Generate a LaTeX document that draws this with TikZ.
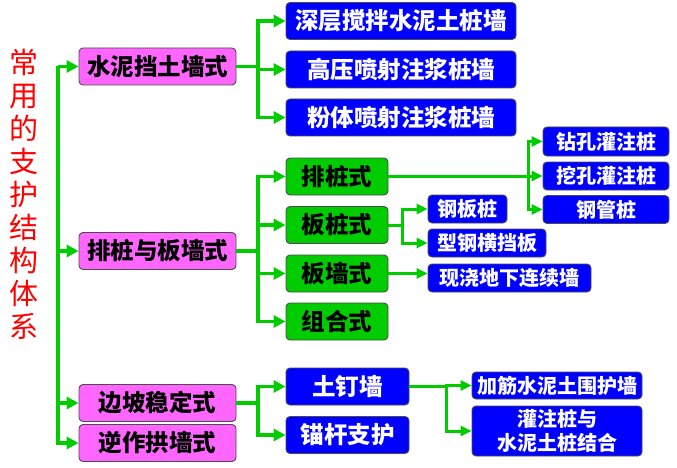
\documentclass[tikz,border=0pt]{standalone}
\usepackage{fontspec}
\setmainfont{Noto Sans CJK SC}
\usepackage{xcolor}
\usepackage{tikz}
\usetikzlibrary{arrows.meta, calc}

\definecolor{boxpink}{RGB}{255,102,255}
\definecolor{boxgreen}{RGB}{0,204,0}
\definecolor{boxblue}{RGB}{0,0,255}
\definecolor{linegreen}{RGB}{0,204,0}

\begin{document}
\begin{tikzpicture}[x=1pt, y=-1pt,
    box/.style={draw=black!70, line width=0.9pt, rounded corners=4pt, inner sep=0pt, align=center},
    pinkbox/.style={box, fill=boxpink, minimum width=157, minimum height=37, font=\fontsize{23.5}{27}\selectfont\bfseries},
    greenbox/.style={box, fill=boxgreen, minimum width=102, minimum height=37, font=\fontsize{23.5}{27}\selectfont\bfseries},
    bluebox/.style={box, fill=boxblue, text=white, minimum height=37, font=\fontsize{23.5}{27}\selectfont\bfseries},
    smallbox/.style={box, fill=boxblue, text=white, minimum height=28, font=\fontsize{20}{24}\selectfont\bfseries},
    conn/.style={linegreen, line width=3.6pt},
    arr/.style={conn, -{Triangle[length=12pt, width=12pt]}},
    thinarr/.style={linegreen, line width=3pt, -{Triangle[length=11pt, width=10pt]}}]
    \useasboundingbox (0,0) rectangle (677,468);

    % title
    \node[red, align=center, font=\fontsize{29}{33}\selectfont] (title) at (24,194)
        {常\\用\\的\\支\\护\\结\\构\\体\\系};

    % first level
    \node[pinkbox] (wall) at (157.5,66.5) {水泥挡土墙式};
    \node[pinkbox] (pile) at (157.5,251) {排桩与板墙式};
    \node[pinkbox] (slope) at (157.5,403) {边坡稳定式};
    \node[pinkbox] (arch) at (157.5,443) {逆作拱墙式};

    % cement walls
    \node[bluebox, minimum width=230] (deep) at (401,21) {深层搅拌水泥土桩墙};
    \node[bluebox, minimum width=230] (jet) at (401,69.5) {高压喷射注浆桩墙};
    \node[bluebox, minimum width=230] (powder) at (401,117.5) {粉体喷射注浆桩墙};

    % piles and walls
    \node[greenbox] (row) at (337,176.5) {排桩式};
    \node[greenbox] (sheet) at (337,225) {板桩式};
    \node[greenbox] (panel) at (337,273.5) {板墙式};
    \node[greenbox] (combo) at (337,321.5) {组合式};

    \node[smallbox, minimum width=126, minimum height=29] (bored) at (606,141.5) {钻孔灌注桩};
    \node[smallbox, minimum width=126] (dug) at (606,176) {挖孔灌注桩};
    \node[smallbox, minimum width=126] (steel) at (606,209.5) {钢管桩};
    \node[smallbox, minimum width=79] (sheetpile) at (467.5,209) {钢板桩};
    \node[smallbox, minimum width=118] (hsteel) at (487,243) {型钢横挡板};
    \node[smallbox, minimum width=163] (dwall) at (509.5,278) {现浇地下连续墙};

    % slope
    \node[bluebox, minimum width=123] (nail) at (347.5,386.5) {土钉墙};
    \node[bluebox, minimum width=123] (anchor) at (347.5,435) {锚杆支护};
    \node[smallbox, minimum width=170, minimum height=27] (rein) at (557,385.5) {加筋水泥土围护墙};
    \node[smallbox, minimum width=170, minimum height=50] (mixed) at (557,431) {灌注桩与\\水泥土桩结合};

    % trunk
    \coordinate (trunk) at (58,66.5);
    \draw[arr] (trunk) -- (wall.west);
    \foreach \n in {pile,slope,arch} {
        \draw[arr] (trunk) |- (\n.west);
    }

    % forks
    \coordinate (wallfork) at (258,66.5);
    \draw[conn] (wall.east) -- (wallfork);
    \foreach \n in {deep,jet,powder} {
        \draw[arr] (wallfork) |- (\n.west);
    }

    \coordinate (pilefork) at (258,251);
    \draw[conn] (pile.east) -- (pilefork);
    \foreach \n in {row,sheet,panel,combo} {
        \draw[arr] (pilefork) |- (\n.west);
    }

    \coordinate (rowfork) at (528,176.5);
    \draw[linegreen, line width=3pt] (row.east) -- (rowfork);
    \foreach \n in {bored,dug,steel} {
        \draw[thinarr] (rowfork) |- (\n.west);
    }

    \coordinate (sheetfork) at (402,225);
    \draw[linegreen, line width=3pt] (sheet.east) -- (sheetfork);
    \foreach \n in {sheetpile,hsteel} {
        \draw[thinarr] (sheetfork) |- (\n.west);
    }

    \draw[thinarr] (panel.east) -- (panel.east -| dwall.west);

    \coordinate (slopefork) at (258,403);
    \draw[conn] (slope.east) -- (slopefork);
    \foreach \n in {nail,anchor} {
        \draw[arr] (slopefork) |- (\n.west);
    }

    \coordinate (nailfork) at (446,386.5);
    \draw[linegreen, line width=3pt] (nail.east) -- (nailfork);
    \foreach \n in {rein,mixed} {
        \draw[thinarr] (nailfork) |- (\n.west);
    }
\end{tikzpicture}
\end{document}
